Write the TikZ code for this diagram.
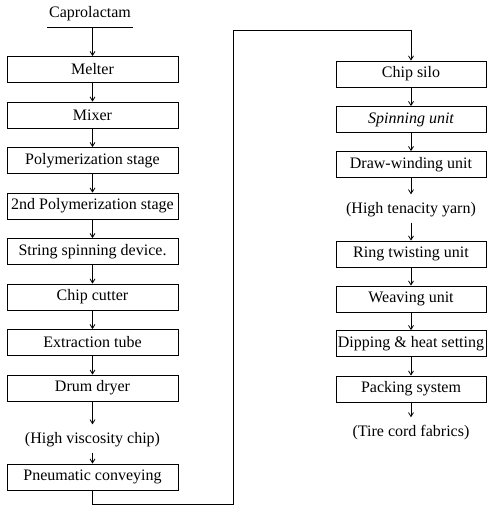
\documentclass[tikz,border=0pt]{standalone}
\usepackage{fontspec}
\setmainfont{Liberation Serif}
\usetikzlibrary{arrows.meta}
\begin{document}
\begin{tikzpicture}[x=1pt,y=-1pt,
  line width=0.8pt,
  font=\fontsize{16}{18}\selectfont,
  stepbox/.style={draw, minimum height=26pt, inner sep=1pt},
  leftbox/.style={stepbox, minimum width=171pt},
  rightbox/.style={stepbox, minimum width=150pt},
  product/.style={inner sep=2pt},
  arr/.style={-{Straight Barb[length=4pt,width=5pt]}},
  toprod/.style={arr, shorten >=6pt},
  fromprod/.style={arr, shorten <=3pt}]
  \useasboundingbox (0,0) rectangle (489,506);

  % raw material, underlined
  \node[product] (cap) at (90,14) {Caprolactam};
  \coordinate (capL) at (47,27);
  \coordinate (capR) at (133,27);
  \coordinate (capA) at (92.5,27);
  \draw (capL) -- (capR);

  % chip production line
  \node[leftbox] (melter)  at (92.5,69.5)  {Melter};
  \node[leftbox] (mixer)   at (92.5,115)   {Mixer};
  \node[leftbox] (poly)    at (92.5,160.5) {Polymerization stage};
  \node[leftbox] (poly2)   at (92.5,206)   {2nd Polymerization stage};
  \node[leftbox] (string)  at (92.5,251.5) {String spinning device.};
  \node[leftbox] (cutter)  at (92.5,297)   {Chip cutter};
  \node[leftbox] (extract) at (92.5,342.5) {Extraction tube};
  \node[leftbox] (dryer)   at (92.5,388)   {Drum dryer};
  \node[product] (hvc)     at (92.5,440)   {(High viscosity chip)};
  \node[leftbox] (pneu)    at (92.5,477)   {Pneumatic conveying};

  % yarn and fabric line
  \node[rightbox] (silo)  at (411,74)    {Chip silo};
  \node[rightbox] (spin)  at (411,119.5) {\itshape Spinning unit};
  \node[rightbox] (drawu) at (411,164.5) {Draw-winding unit};
  \node[product]  (hty)   at (411,210)   {(High tenacity yarn)};
  \node[rightbox] (ring)  at (411,254)   {Ring twisting unit};
  \node[rightbox] (weave) at (411,299)   {Weaving unit};
  \node[rightbox] (dip)   at (411,343.5) {Dipping \& heat setting};
  \node[rightbox] (pack)  at (411,389)   {Packing system};
  \node[product]  (tire)  at (411,433)   {(Tire cord fabrics)};

  % connectors, left column
  \draw[arr] (capA) -- (melter);
  \draw[arr] (melter) -- (mixer);
  \draw[arr] (mixer) -- (poly);
  \draw[arr] (poly) -- (poly2);
  \draw[arr] (poly2) -- (string);
  \draw[arr] (string) -- (cutter);
  \draw[arr] (cutter) -- (extract);
  \draw[arr] (extract) -- (dryer);
  \draw[toprod] (dryer) -- (hvc);
  \draw[fromprod] (hvc) -- (pneu);

  % transfer line from conveying to the chip silo
  \coordinate (loopA) at (92.5,504);
  \coordinate (loopB) at (233,504);
  \coordinate (loopC) at (233,30);
  \coordinate (loopD) at (411,30);
  \draw[arr] (pneu.south) -- (loopA) -- (loopB) -- (loopC) -- (loopD) -- (silo.north);

  % connectors, right column
  \draw[arr] (silo) -- (spin);
  \draw[arr] (spin) -- (drawu);
  \draw[toprod] (drawu) -- (hty);
  \draw[fromprod] (hty) -- (ring);
  \draw[arr] (ring) -- (weave);
  \draw[arr] (weave) -- (dip);
  \draw[arr] (dip) -- (pack);
  \draw[toprod] (pack) -- (tire);
\end{tikzpicture}
\end{document}
